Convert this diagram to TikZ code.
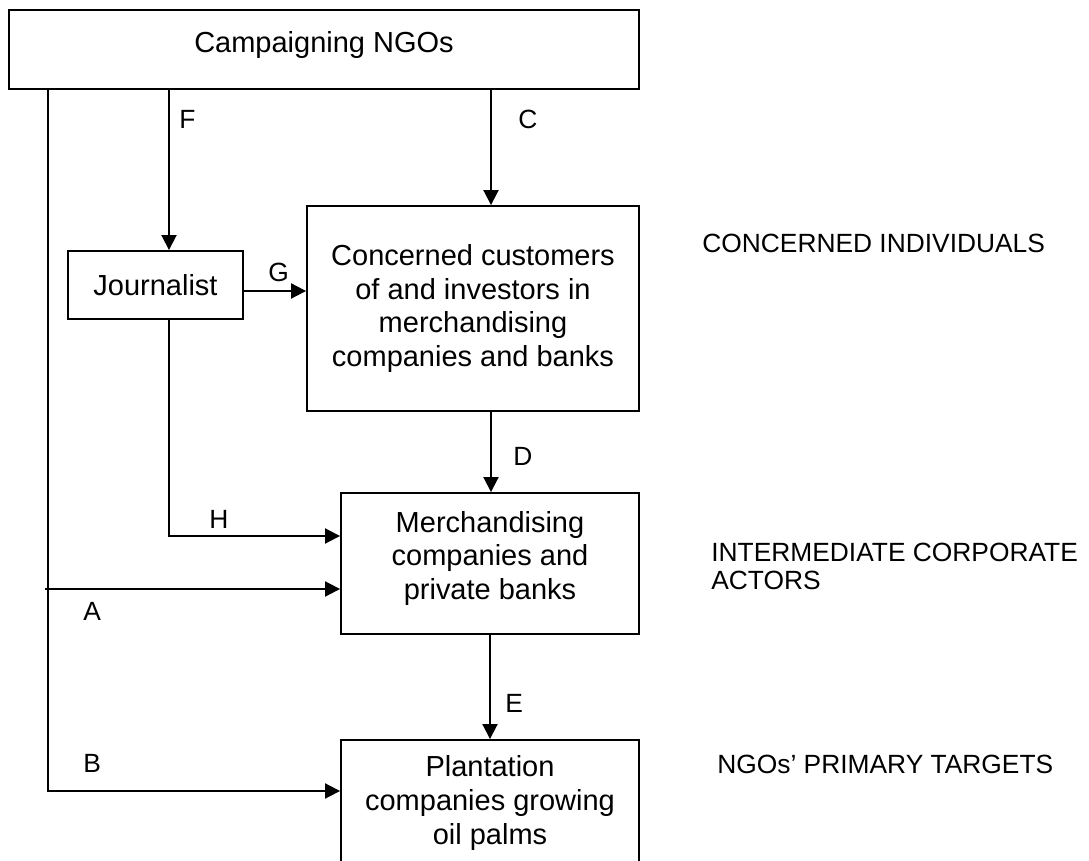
\documentclass[tikz,border=0pt]{standalone}
\usepackage{fontspec}
\setmainfont{Liberation Sans}
\usetikzlibrary{arrows.meta}
\tikzset{
  bx/.style={draw,line width=1.1pt,inner sep=0pt,align=center,font=\fontsize{16.5}{19.3}\selectfont},
  fl/.style={line width=1.1pt,-{Triangle[length=3mm,width=3mm]}},
  lt/.style={anchor=base west,inner sep=0pt,font=\fontsize{15}{16}\selectfont},
  lvl/.style={lt,align=left}
}

\begin{document}
\begin{tikzpicture}[x=0.02cm,y=-0.02cm]
\useasboundingbox (0,0) rectangle (1089,861);
\clip (0,0) rectangle (1089,861);
% boxes
\node[bx,minimum width=12.6cm,minimum height=1.58cm,text height=0.85cm,text depth=0.73cm] (ngo) at (324,49.5) {Campaigning NGOs};
\node[bx,minimum width=3.5cm,minimum height=1.36cm] (jour) at (155.5,285) {Journalist};
\node[bx,minimum width=6.64cm,minimum height=4.1cm] (cust) at (473,308.5) {Concerned customers\\of and investors in\\merchandising\\companies and banks};
\node[bx,minimum width=5.96cm,minimum height=2.82cm] (merch) at (490,563.5) {Merchandising\\companies and\\\raisebox{0pt}[\height][\dimexpr\depth+0.2cm\relax]{private banks}};
\node[bx,minimum width=5.96cm,minimum height=2.52cm] (plant) at (490,803) {Plantation\\companies growing\\oil palms};
% bends
\coordinate (fx) at (169,0); \coordinate (cx) at (491,0);
\coordinate (bB) at (48,791); \coordinate (aA) at (45,589);
\coordinate (hH) at (169,536); \coordinate (gG) at (0,291);
% connectors
\draw[fl] (ngo.south -| bB) -- (bB) -- (bB -| plant.west);
\draw[fl] (aA) -- (aA -| merch.west);
\draw[fl] (ngo.south -| fx) -- (jour.north -| fx);
\draw[fl] (jour.south -| hH) -- (hH) -- (hH -| merch.west);
\draw[fl] (ngo.south -| cx) -- (cust.north -| cx);
\draw[fl] (jour.east |- gG) -- (cust.west |- gG);
\draw[fl] (cust.south -| cx) -- (merch.north -| cx);
\draw[fl] (merch.south) -- (plant.north);
% letters
\node[lt] (lF) at (179,129) {F};
\node[lt] (lC) at (518,129) {C};
\node[lt] (lG) at (268,282) {G};
\node[lt] (lD) at (513,466) {D};
\node[lt] (lH) at (209,528) {H};
\node[lt] (lE) at (505,712) {E};
\node[lt] (lA) at (83,620) {A};
\node[lt] (lB) at (83,772) {B};
% levels
\node[lt] (indiv) at (702,253) {CONCERNED INDIVIDUALS};
\node[lvl,anchor=north west] (inter) at (711,543) {INTERMEDIATE CORPORATE\\ACTORS};
\node[lt] (prim) at (717,773) {NGOs’ PRIMARY TARGETS};
\end{tikzpicture}
\end{document}
